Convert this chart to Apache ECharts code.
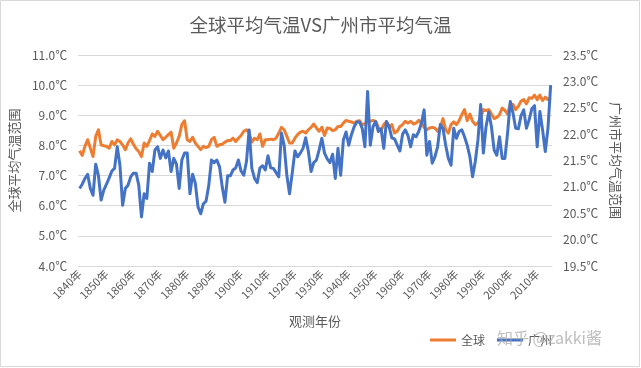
<!DOCTYPE html>
<html><head><meta charset="utf-8">
<script src="https://cdn.jsdelivr.net/npm/echarts@6/dist/echarts.min.js"></script>
<style>html,body{margin:0;padding:0;background:#fff}#c{width:641px;height:368px}</style>
</head><body><div id="c"></div>
<script>
const startYear = 1840, endYear = 2015;
const years = [];
for (let y = startYear; y <= endYear; y++) years.push(y + '年');

const globalTemp = [
7.82,7.67,7.97,8.19,7.91,7.63,8.30,8.52,8.02,7.99,
7.97,7.91,8.13,8.02,8.19,8.13,8.02,7.86,8.08,8.22,
8.04,7.89,7.80,7.63,8.08,7.97,8.16,8.38,8.30,8.47,
8.33,8.19,8.27,8.36,8.44,7.91,8.08,8.30,8.69,8.82,
8.19,8.13,8.27,8.08,7.97,7.86,7.97,7.93,7.97,8.19,
8.27,7.97,8.02,8.04,8.11,8.16,8.16,8.24,8.13,8.24,
8.33,8.47,8.52,8.41,8.11,8.24,8.19,8.38,7.97,8.19,
8.19,8.21,8.19,8.24,8.41,8.60,8.52,8.30,8.08,8.08,
8.24,8.36,8.44,8.47,8.41,8.52,8.60,8.71,8.58,8.47,
8.60,8.33,8.58,8.56,8.49,8.52,8.63,8.63,8.74,8.83,
8.80,8.78,8.74,8.80,8.82,8.69,8.71,8.83,8.80,8.83,
8.80,8.60,8.49,8.69,8.78,8.60,8.69,8.41,8.47,8.63,
8.69,8.80,8.74,8.80,8.71,8.74,8.83,8.74,8.60,8.52,
8.58,8.60,8.58,8.47,8.60,8.89,8.52,8.41,8.69,8.78,
8.69,8.82,9.02,9.19,8.82,9.04,8.80,8.69,8.74,8.93,
9.19,9.16,9.19,9.04,8.89,8.93,9.02,9.24,9.16,9.04,
9.38,9.36,9.19,9.30,9.47,9.52,9.38,9.58,9.56,9.67,
9.52,9.67,9.49,9.60,9.52,9.58
];

const guangzhouTemp = [
20.97,21.05,21.16,21.24,20.97,20.84,21.43,21.22,20.75,20.94,
21.05,21.17,21.30,21.35,21.76,21.41,20.65,20.97,21.03,21.19,
21.26,21.26,21.03,20.43,20.87,20.78,21.45,21.29,21.70,21.76,
21.54,21.70,21.55,21.68,21.29,21.54,21.43,20.97,21.51,21.64,
21.64,20.87,21.24,21.07,20.62,20.49,20.68,20.73,21.03,21.51,
21.46,21.51,21.38,21.00,20.71,21.21,21.21,21.32,21.36,21.51,
21.30,21.22,21.48,22.08,21.35,21.16,21.08,21.36,21.40,21.32,
21.59,21.36,21.35,21.27,21.19,22.02,21.79,21.22,20.87,21.26,
21.68,21.57,21.64,21.73,21.93,21.67,21.29,21.46,21.51,21.70,
21.92,21.64,21.53,21.46,21.62,21.16,21.73,21.22,21.89,22.04,
21.79,21.99,22.14,22.23,22.23,22.11,21.76,22.81,21.79,22.14,
22.24,22.05,22.10,21.73,22.24,22.14,21.93,21.91,21.79,21.68,
22.00,22.08,21.97,21.76,21.99,21.95,22.05,22.21,22.46,21.60,
21.86,21.45,21.57,21.76,22.18,22.11,21.79,21.54,21.41,22.11,
21.92,22.05,22.08,21.95,21.79,21.57,21.19,21.48,21.89,22.56,
21.64,22.14,22.42,22.14,21.70,21.60,21.95,21.54,21.54,22.02,
22.62,22.40,22.11,22.10,22.35,22.46,22.11,22.27,22.48,22.54,
21.76,22.43,22.08,21.67,22.11,22.93
];

const seriesNames = ['全球', '广州'];
const titleText = '全球平均气温VS广州市平均气温';
const leftAxisName = '全球平均气温范围';
const rightAxisName = '广州市平均气温范围';
const xAxisName = '观测年份';
const watermark = '知乎 @zakki酱';

const FONT = '"Noto Sans CJK SC", "Noto Sans", sans-serif';
const TXT = '#595959';

const chart = echarts.init(document.getElementById('c'), null, {renderer: 'canvas'});
chart.setOption({
  animation: false,
  textStyle: {fontFamily: FONT},
  title: {
    text: titleText, left: 'center', top: 11,
    textStyle: {fontFamily: FONT, fontSize: 18.5, fontWeight: 'normal', color: TXT}
  },
  grid: {left: 76, right: 89, top: 55, bottom: 102, containLabel: false},
  legend: {
    data: seriesNames, right: 84, top: 329, itemGap: 12,
    icon: 'rect', itemWidth: 26, itemHeight: 3,
    textStyle: {fontFamily: FONT, fontSize: 12, color: TXT}
  },
  xAxis: {
    type: 'category', data: years, boundaryGap: true,
    name: xAxisName, nameLocation: 'middle', nameGap: 49,
    nameTextStyle: {fontFamily: FONT, fontSize: 13, color: TXT},
    axisLine: {show: true, lineStyle: {color: '#d9d9d9'}},
    axisTick: {show: false},
    axisLabel: {interval: 9, rotate: 45, fontSize: 11, color: TXT, margin: 6, fontFamily: FONT}
  },
  yAxis: [{
    type: 'value', min: 4, max: 11, interval: 1, position: 'left',
    name: leftAxisName, nameLocation: 'middle', nameGap: 51, nameRotate: 90,
    nameTextStyle: {fontFamily: FONT, fontSize: 13, color: TXT},
    axisLine: {show: false}, axisTick: {show: false},
    axisLabel: {formatter: v => v.toFixed(1) + '℃', fontSize: 12, color: TXT, margin: 11, fontFamily: FONT},
    splitLine: {lineStyle: {color: '#d9d9d9', width: 1}}
  }, {
    type: 'value', min: 19.5, max: 23.5, interval: 0.5, position: 'right',
    name: rightAxisName, nameLocation: 'middle', nameGap: 55, nameRotate: -90,
    nameTextStyle: {fontFamily: FONT, fontSize: 13, color: TXT},
    axisLine: {show: false}, axisTick: {show: false},
    axisLabel: {formatter: v => v.toFixed(1) + '℃', fontSize: 12, color: TXT, margin: 11, fontFamily: FONT},
    splitLine: {show: false}
  }],
  series: [{
    name: seriesNames[0], type: 'line', data: globalTemp, yAxisIndex: 0,
    showSymbol: false, symbol: 'none',
    lineStyle: {color: '#ED7D31', width: 3, join: 'round'},
    itemStyle: {color: '#ED7D31'}
  }, {
    name: seriesNames[1], type: 'line', data: guangzhouTemp, yAxisIndex: 1,
    showSymbol: false, symbol: 'none',
    lineStyle: {color: '#4472C4', width: 3, join: 'round'},
    itemStyle: {color: '#4472C4'}
  }],
  graphic: [{
    type: 'rect', shape: {x: 0.5, y: 0.5, width: 639, height: 366},
    style: {fill: 'none', stroke: '#d9d9d9', lineWidth: 1}, silent: true
  }, {
    type: 'text', left: 497, top: 330, z: 100,
    style: {text: watermark, fontFamily: FONT, fontSize: 16, fill: 'rgba(170,170,170,0.75)'}
  }]
});
</script></body></html>
